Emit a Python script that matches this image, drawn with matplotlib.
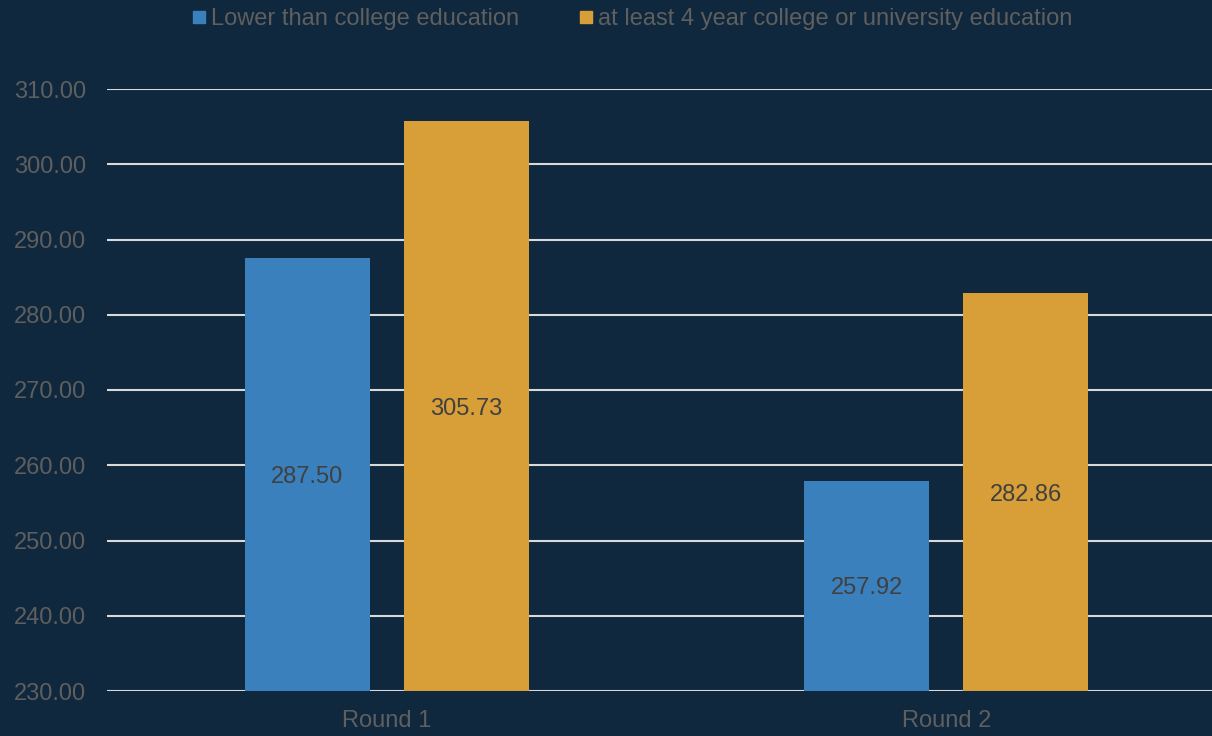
import matplotlib.pyplot as plt
from matplotlib.lines import Line2D
import numpy as np

plt.rcParams['font.family'] = ['Liberation Sans', 'DejaVu Sans']

categories = ['Round 1', 'Round 2']
lower_college = [287.50, 257.92]
college_4yr = [305.73, 282.86]
series_names = ['Lower than college education',
                'at least 4 year college or university education']

bg = '#0f283d'
blue = '#3a80bd'
orange = '#d89e38'
tick_col = '#5f5f5f'
label_col = '#404040'
fs = 17

fig = plt.figure(figsize=(12.12, 7.36), dpi=100, facecolor=bg)
ax = fig.add_axes([107 / 1212, 1 - 691 / 736, 1 - 107 / 1212, (691 - 89) / 736])
ax.set_facecolor(bg)

x = np.arange(len(categories))
w = 0.2234
off = 0.142
base = 230
b1 = ax.bar(x - off, np.array(lower_college) - base, w, bottom=base, color=blue, zorder=3)
b2 = ax.bar(x + off, np.array(college_4yr) - base, w, bottom=base, color=orange, zorder=3)

for bars, vals in [(b1, lower_college), (b2, college_4yr)]:
    for r, v in zip(bars, vals):
        ax.text(r.get_x() + r.get_width() / 2, (base + v) / 2, f'{v:.2f}',
                ha='center', va='center_baseline', fontsize=fs, color=label_col, zorder=4)

ax.set_ylim(230, 310)
ax.set_xlim(-0.5, 1.475)
ax.set_yticks(np.arange(230, 311, 10))
ax.set_yticklabels([f'{v:.2f}' for v in np.arange(230, 311, 10)])
ax.set_xticks(x)
ax.set_xticklabels(categories)
ax.yaxis.grid(True, color='#d9d9d9', linewidth=1.5, zorder=1)
ax.set_axisbelow(True)
ax.tick_params(axis='both', length=0, colors=tick_col, labelsize=fs)
ax.tick_params(axis='y', pad=15)
ax.tick_params(axis='x', pad=14)
for s in ax.spines.values():
    s.set_visible(False)

handles = [Line2D([], [], marker='s', linestyle='none', markersize=8, color=blue),
           Line2D([], [], marker='s', linestyle='none', markersize=8, color=orange)]
leg = fig.legend(handles, series_names, loc='center', bbox_to_anchor=(633 / 1212, 1 - 19 / 736),
                 ncol=2, frameon=False, fontsize=fs, handlelength=0.5, handletextpad=0.25,
                 columnspacing=2.6)
for t in leg.get_texts():
    t.set_color(tick_col)

fig.savefig('out.png', dpi=100, facecolor=bg)
